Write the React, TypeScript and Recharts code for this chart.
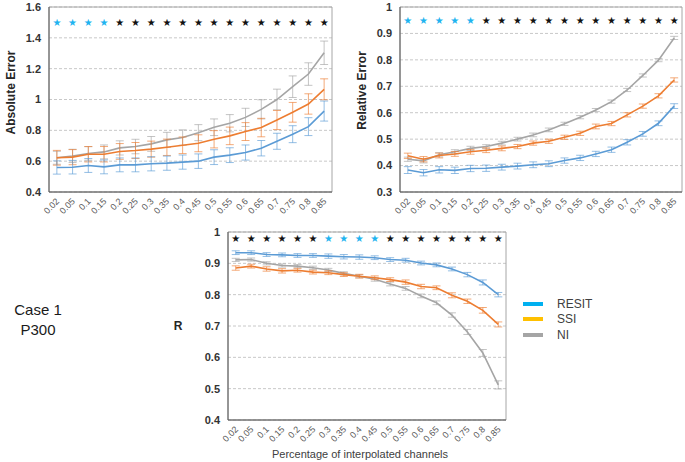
import React from 'react';
import {
  ComposedChart,
  Line,
  ErrorBar,
  XAxis,
  YAxis,
  CartesianGrid,
  Scatter,
  ReferenceArea,
  Legend,
} from 'recharts';

// ---------- data ----------
const categories = ['0.02', '0.05', '0.1', '0.15', '0.2', '0.25', '0.3', '0.35', '0.4', '0.45', '0.5', '0.55', '0.6', '0.65', '0.7', '0.75', '0.8', '0.85'];

// Absolute Error
const absResit = [0.559, 0.561, 0.572, 0.563, 0.576, 0.576, 0.583, 0.587, 0.594, 0.600, 0.626, 0.639, 0.656, 0.684, 0.729, 0.775, 0.824, 0.925];
const absResitErr = [0.043, 0.044, 0.045, 0.045, 0.045, 0.045, 0.046, 0.046, 0.046, 0.047, 0.048, 0.048, 0.049, 0.050, 0.052, 0.055, 0.058, 0.065];
const absSsi = [0.622, 0.626, 0.645, 0.645, 0.663, 0.669, 0.678, 0.690, 0.703, 0.716, 0.742, 0.764, 0.792, 0.818, 0.867, 0.917, 0.971, 1.066];
const absSsiErr = [0.048, 0.049, 0.050, 0.050, 0.051, 0.052, 0.052, 0.053, 0.054, 0.055, 0.056, 0.057, 0.058, 0.060, 0.062, 0.064, 0.066, 0.068];
const absNi = [0.622, 0.634, 0.650, 0.660, 0.686, 0.695, 0.712, 0.738, 0.753, 0.785, 0.820, 0.846, 0.884, 0.936, 1.000, 1.083, 1.165, 1.303];
const absNiErr = [0.042, 0.043, 0.044, 0.045, 0.046, 0.047, 0.048, 0.049, 0.050, 0.052, 0.054, 0.056, 0.059, 0.062, 0.067, 0.070, 0.073, 0.076];
const absSig = [1, 1, 1, 1, 0, 0, 0, 0, 0, 0, 0, 0, 0, 0, 0, 0, 0, 0];

// Relative Error
const relResit = [0.383, 0.373, 0.384, 0.382, 0.389, 0.390, 0.394, 0.398, 0.403, 0.407, 0.419, 0.429, 0.444, 0.460, 0.488, 0.520, 0.560, 0.625];
const relResitErr = [0.013, 0.012, 0.012, 0.012, 0.012, 0.012, 0.011, 0.011, 0.011, 0.011, 0.010, 0.010, 0.010, 0.010, 0.010, 0.009, 0.009, 0.009];
const relSsi = [0.437, 0.424, 0.438, 0.444, 0.452, 0.458, 0.465, 0.472, 0.485, 0.492, 0.507, 0.522, 0.548, 0.559, 0.592, 0.625, 0.664, 0.724];
const relSsiErr = [0.010, 0.010, 0.009, 0.009, 0.009, 0.009, 0.009, 0.008, 0.008, 0.008, 0.008, 0.008, 0.009, 0.008, 0.008, 0.008, 0.008, 0.008];
const relNi = [0.424, 0.418, 0.441, 0.452, 0.465, 0.472, 0.485, 0.500, 0.516, 0.535, 0.558, 0.583, 0.610, 0.642, 0.686, 0.741, 0.799, 0.883];
const relNiErr = [0.008, 0.008, 0.008, 0.008, 0.008, 0.007, 0.007, 0.007, 0.007, 0.007, 0.006, 0.006, 0.006, 0.006, 0.006, 0.006, 0.006, 0.006];
const relSig = [1, 1, 1, 1, 1, 0, 0, 0, 0, 0, 0, 0, 0, 0, 0, 0, 0, 0];

// R
const rResit = [0.934, 0.934, 0.928, 0.927, 0.925, 0.925, 0.923, 0.921, 0.920, 0.918, 0.912, 0.910, 0.901, 0.895, 0.882, 0.864, 0.839, 0.800];
const rResitErr = [0.006, 0.006, 0.006, 0.006, 0.006, 0.006, 0.007, 0.007, 0.007, 0.006, 0.006, 0.006, 0.006, 0.006, 0.006, 0.007, 0.008, 0.007];
const rSsi = [0.885, 0.891, 0.882, 0.876, 0.878, 0.872, 0.870, 0.864, 0.859, 0.854, 0.848, 0.840, 0.826, 0.822, 0.798, 0.779, 0.750, 0.705];
const rSsiErr = [0.007, 0.006, 0.007, 0.007, 0.006, 0.006, 0.006, 0.006, 0.006, 0.006, 0.006, 0.007, 0.007, 0.006, 0.008, 0.007, 0.009, 0.008];
const rNi = [0.911, 0.912, 0.900, 0.893, 0.891, 0.886, 0.879, 0.868, 0.859, 0.849, 0.834, 0.820, 0.796, 0.774, 0.735, 0.681, 0.614, 0.512];
const rNiErr = [0.005, 0.005, 0.005, 0.005, 0.005, 0.005, 0.005, 0.005, 0.005, 0.006, 0.006, 0.006, 0.006, 0.006, 0.007, 0.008, 0.011, 0.013];
const rSig = [0, 0, 0, 0, 0, 0, 1, 1, 1, 1, 0, 0, 0, 0, 0, 0, 0, 0];

const absTicks = [0.4, 0.6, 0.8, 1, 1.2, 1.4, 1.6];
const relTicks = [0.3, 0.4, 0.5, 0.6, 0.7, 0.8, 0.9, 1];
const rTicks = [0.4, 0.5, 0.6, 0.7, 0.8, 0.9, 1];

const seriesNames = ['RESIT', 'SSI', 'NI'];

// ---------- styles ----------
const FONT = '"Liberation Sans", Arial, sans-serif';
const LINE_COLORS: Record<string, string> = { RESIT: '#5B9BD5', SSI: '#ED7D31', NI: '#A5A5A5' };
const LEGEND_COLORS: Record<string, string> = { RESIT: '#00B0F0', SSI: '#FFC000', NI: '#A5A5A5' };
const STAR_BLUE = '#1FB4F0';
const STAR_BLACK = '#111111';

function makeRows(
  resit: number[], resitErr: number[],
  ssi: number[], ssiErr: number[],
  ni: number[], niErr: number[],
  sig: number[], starLevel: number,
) {
  return categories.map((c, i) => ({
    x: c,
    resit: resit[i], resitErr: resitErr[i],
    ssi: ssi[i], ssiErr: ssiErr[i],
    ni: ni[i], niErr: niErr[i],
    star: starLevel,
    sig: sig[i],
  }));
}

const absRows = makeRows(absResit, absResitErr, absSsi, absSsiErr, absNi, absNiErr, absSig, 1.5);
const relRows = makeRows(relResit, relResitErr, relSsi, relSsiErr, relNi, relNiErr, relSig, 0.95);
const rRows = makeRows(rResit, rResitErr, rSsi, rSsiErr, rNi, rNiErr, rSig, 0.98);

const XTick = (props: any) => {
  const { x, y, payload } = props;
  return (
    <g transform={`translate(${x + 3},${y + 2})`}>
      <text x={0} y={0} textAnchor="end" transform="rotate(-45)" fontSize={9} fill="#595959" fontFamily={FONT}>
        {payload.value}
      </text>
    </g>
  );
};

const StarShape = (props: any) => {
  const { cx, cy, payload } = props;
  return (
    <text x={cx} y={cy} textAnchor="middle" dominantBaseline="central" fontSize={10} fill={payload.sig ? STAR_BLUE : STAR_BLACK} fontFamily='"DejaVu Sans", sans-serif'>
      ★
    </text>
  );
};

const LegendContent = (props: any) => {
  const items = (props.payload || [])
    .filter((p: any) => seriesNames.includes(p.value))
    .sort((a: any, b: any) => seriesNames.indexOf(a.value) - seriesNames.indexOf(b.value));
  return (
    <div style={{ fontFamily: FONT }}>
      {items.map((p: any) => (
        <div key={p.value} style={{ display: 'flex', alignItems: 'center', height: 15.5 }}>
          <span style={{ display: 'inline-block', width: 20, height: 4, background: LEGEND_COLORS[p.value], marginRight: 14 }} />
          <span style={{ fontSize: 12, color: '#404040' }}>{p.value}</span>
        </div>
      ))}
    </div>
  );
};

type PanelProps = {
  rows: any[];
  left: number; top: number; width: number; height: number;
  margin: { top: number; right: number; left: number; bottom: number };
  yAxisWidth: number; xAxisHeight: number;
  domain: [number, number]; ticks: number[];
  yLabel: string; yLabelX: number; yLabelDy: number; yLabelSize: number; yLabelRotate: boolean;
  xLabel?: string; xLabelX?: number; xLabelY?: number;
  legend?: boolean;
};

const Panel = (p: PanelProps) => {
  return (
    <div style={{ position: 'absolute', left: p.left, top: p.top, width: p.width, height: p.height }}>
      <ComposedChart width={p.width} height={p.height} data={p.rows} margin={p.margin}>
        <CartesianGrid vertical={false} stroke="#C8C8C8" strokeDasharray="3 2" />
        <ReferenceArea y1={p.domain[0]} y2={p.domain[1]} fill="none" stroke="#A6A6A6" strokeWidth={1} />
        <XAxis
          dataKey="x"
          scale="band"
          interval={0}
          tickLine={false}
          axisLine={{ stroke: '#595959' }}
          height={p.xAxisHeight}
          tick={<XTick />}
          label={
            p.xLabel
              ? {
                  content: () => (
                    <text x={p.xLabelX} y={p.xLabelY} textAnchor="middle" dominantBaseline="central" fontSize={11} fill="#404040" fontFamily={FONT}>
                      {p.xLabel}
                    </text>
                  ),
                }
              : undefined
          }
        />
        <YAxis
          type="number"
          domain={p.domain}
          ticks={p.ticks}
          interval={0}
          tickLine={false}
          axisLine={{ stroke: '#595959' }}
          width={p.yAxisWidth}
          tick={{ fontSize: 11, fontWeight: 'bold', fill: '#333333', fontFamily: FONT }}
          label={{
            content: (lp: any) => {
              const vb = lp.viewBox || {};
              const cy = vb.y + vb.height / 2 + p.yLabelDy;
              return (
                <text
                  x={p.yLabelX}
                  y={cy}
                  textAnchor="middle"
                  dominantBaseline="central"
                  fontSize={p.yLabelSize}
                  fontWeight="bold"
                  fill="#262626"
                  fontFamily={FONT}
                  transform={p.yLabelRotate ? `rotate(-90 ${p.yLabelX} ${cy})` : undefined}
                >
                  {p.yLabel}
                </text>
              );
            },
          }}
        />
        <Line dataKey="ni" name="NI" stroke={LINE_COLORS.NI} strokeWidth={1.6} dot={false} isAnimationActive={false}>
          <ErrorBar dataKey="niErr" width={4} stroke={LINE_COLORS.NI} strokeOpacity={0.65} strokeWidth={1} isAnimationActive={false} />
        </Line>
        <Line dataKey="ssi" name="SSI" stroke={LINE_COLORS.SSI} strokeWidth={1.6} dot={false} isAnimationActive={false}>
          <ErrorBar dataKey="ssiErr" width={4} stroke={LINE_COLORS.SSI} strokeOpacity={0.65} strokeWidth={1} isAnimationActive={false} />
        </Line>
        <Line dataKey="resit" name="RESIT" stroke={LINE_COLORS.RESIT} strokeWidth={1.6} dot={false} isAnimationActive={false}>
          <ErrorBar dataKey="resitErr" width={4} stroke={LINE_COLORS.RESIT} strokeOpacity={0.65} strokeWidth={1} isAnimationActive={false} />
        </Line>
        <Scatter dataKey="star" shape={StarShape} legendType="none" isAnimationActive={false} />
        {p.legend && (
          <Legend
            layout="horizontal"
            align="center"
            verticalAlign="middle"
            content={<LegendContent />}
            wrapperStyle={{ position: 'absolute', left: 353, top: 71, width: 100, height: 50 }}
          />
        )}
      </ComposedChart>
    </div>
  );
};

export default function App() {
  return (
    <div style={{ position: 'absolute', left: 0, top: 0, width: 685, height: 462, background: '#fff', fontFamily: FONT }}>
      <Panel
        rows={absRows}
        left={0} top={0} width={340} height={230}
        margin={{ top: 7, right: 8, left: 0, bottom: 0 }}
        yAxisWidth={49} xAxisHeight={38}
        domain={[0.4, 1.6]} ticks={absTicks}
        yLabel="Absolute Error" yLabelX={11} yLabelDy={-7} yLabelSize={12} yLabelRotate
      />
      <Panel
        rows={relRows}
        left={340} top={0} width={345} height={230}
        margin={{ top: 7, right: 3, left: 0, bottom: 0 }}
        yAxisWidth={60} xAxisHeight={38}
        domain={[0.3, 1]} ticks={relTicks}
        yLabel="Relative Error" yLabelX={22} yLabelDy={-9} yLabelSize={12} yLabelRotate
      />
      <Panel
        rows={rRows}
        left={170} top={225} width={515} height={237}
        margin={{ top: 7, right: 179, left: 0, bottom: 0 }}
        yAxisWidth={58} xAxisHeight={42}
        domain={[0.4, 1]} ticks={rTicks}
        yLabel="R" yLabelX={8} yLabelDy={0} yLabelSize={12} yLabelRotate={false}
        xLabel="Percentage of interpolated channels" xLabelX={190} xLabelY={229}
        legend
      />
      <div style={{ position: 'absolute', left: 0, top: 300, width: 76, textAlign: 'center', fontSize: 15, lineHeight: '20px', color: '#1a1a1a', fontFamily: FONT }}>
        <div>Case 1</div>
        <div>P300</div>
      </div>
    </div>
  );
}
